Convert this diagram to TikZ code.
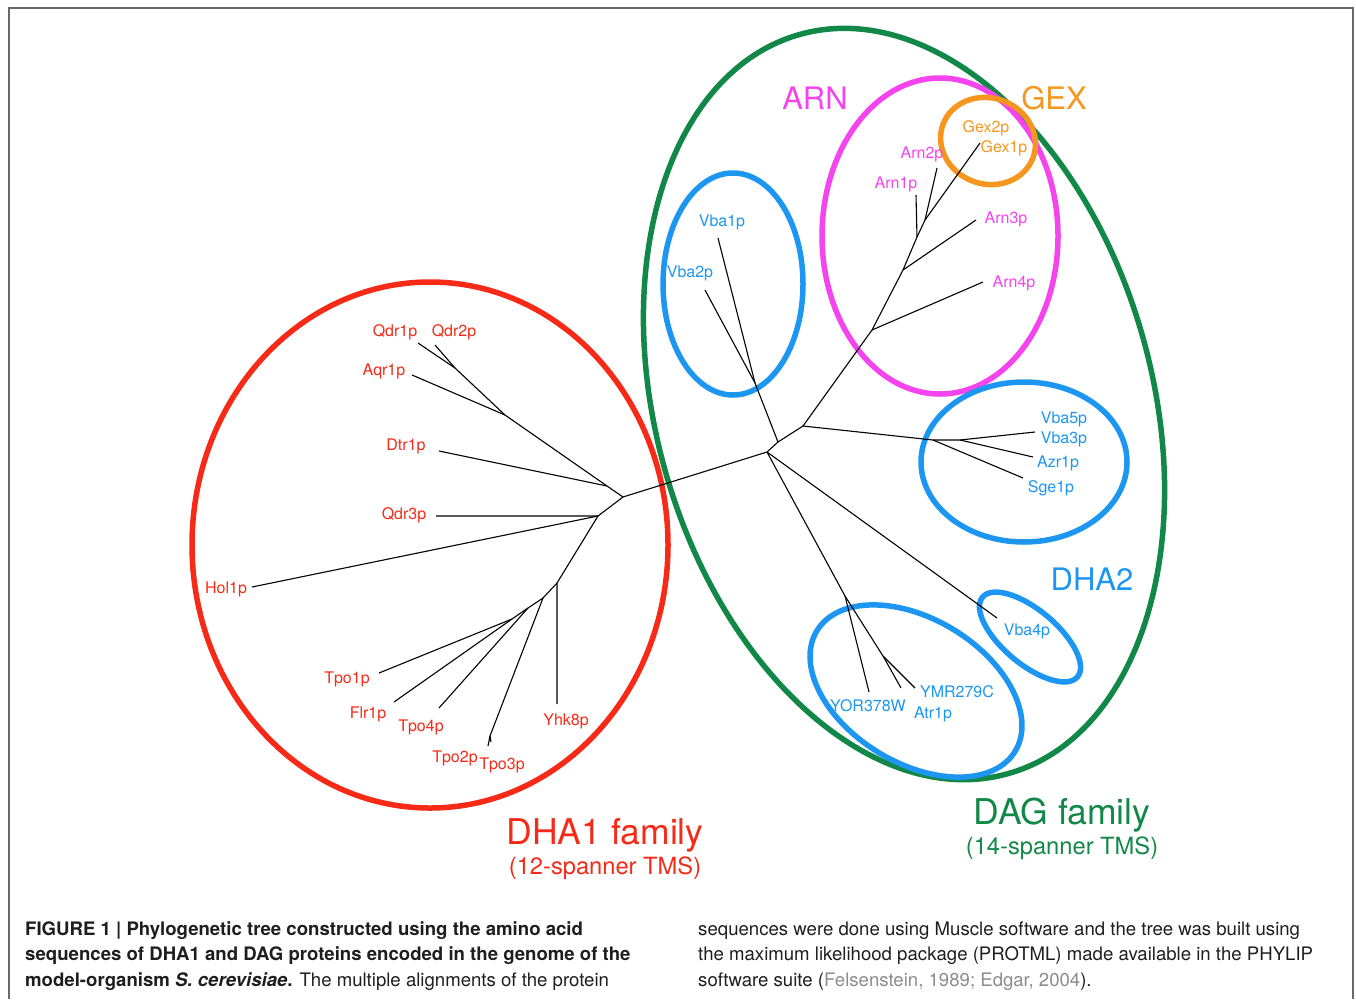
\documentclass[tikz,border=0pt]{standalone}
\usepackage{fontspec}
\setmainfont{TeX Gyre Heros}
\definecolor{dhared}{RGB}{246,42,22}
\definecolor{daggreen}{RGB}{18,136,72}
\definecolor{arnpink}{RGB}{244,68,238}
\definecolor{gexorange}{RGB}{246,150,30}
\definecolor{dhablue}{RGB}{28,150,240}
\definecolor{framegray}{RGB}{105,105,105}
\definecolor{citegray}{RGB}{140,140,140}
\definecolor{captext}{RGB}{30,30,30}
\begin{document}
\begin{tikzpicture}[x=1pt, y=-1pt,
  branch/.style={line width=1.1pt},
  ring/.style={line width=5.5pt},
  leaf/.style={inner sep=0pt, font=\fontsize{16}{18}\selectfont},
  group/.style={inner sep=0pt, font=\fontsize{31}{33}\selectfont},
  family/.style={inner sep=0pt, font=\fontsize{35.5}{38}\selectfont},
  tms/.style={inner sep=0pt, font=\fontsize{23.7}{26}\selectfont},
  caption/.style={inner sep=0pt, align=left, text=captext, font=\fontsize{18.6}{25.5}\selectfont}]
\useasboundingbox (0,0) rectangle (1356,999);

% Frame
\draw[framegray, line width=1.3pt] (9,999) -- (9,8) -- (1353,8) -- (1353,999);

% Rings
\draw[ring, daggreen, rotate around={15.8:(904,404)}] (904,404) ellipse [x radius=248, y radius=384];
\draw[ring, dhared] (430,545) ellipse [x radius=238, y radius=263];
\draw[ring, arnpink] (940,236) ellipse [x radius=118, y radius=158];
\draw[ring, dhablue] (733,284) ellipse [x radius=70, y radius=111];
\draw[ring, dhablue] (1024,462) ellipse [x radius=103, y radius=80];
\draw[ring, dhablue, rotate around={-31.3:(916,691)}] (916,691) ellipse [x radius=116, y radius=72];
\draw[ring, dhablue, rotate around={-40:(1030,637)}] (1030,637) ellipse [x radius=62, y radius=27];
\draw[ring, gexorange, rotate around={-20:(988,141)}] (988,141) ellipse [x radius=48, y radius=43];

% DHA1 tree
\coordinate (a) at (623,497);
\coordinate (j1) at (607,486);
\coordinate (k) at (505,415);
\coordinate (l) at (455,368);
\coordinate (m) at (598,516);
\coordinate (n) at (557,583);
\coordinate (p) at (543,598);
\coordinate (q) at (490,736);
\coordinate (r) at (528,608);
\coordinate (s) at (512,619);
\coordinate (tQdr1) at (418,343);
\coordinate (tQdr2) at (435,345);
\coordinate (tAqr1) at (412,375);
\coordinate (tDtr1) at (439,451);
\coordinate (tQdr3) at (436,516);
\coordinate (tHol1) at (252,587);
\coordinate (tYhk8) at (557,704);
\coordinate (tTpo2) at (488,746);
\coordinate (tTpo3) at (491,742);
\coordinate (tTpo4) at (439,708);
\coordinate (tTpo1) at (379,673);
\coordinate (tFlr1) at (394,702);

\draw[branch] (a) -- (j1) -- (k) -- (l) -- (tQdr1);
\draw[branch] (l) -- (tQdr2);
\draw[branch] (k) -- (tAqr1);
\draw[branch] (j1) -- (tDtr1);
\draw[branch] (a) -- (m) -- (tQdr3);
\draw[branch] (m) -- (tHol1);
\draw[branch] (m) -- (n) -- (tYhk8);
\draw[branch] (n) -- (p) -- (q) -- (tTpo2);
\draw[branch] (q) -- (tTpo3);
\draw[branch] (p) -- (r) -- (tTpo4);
\draw[branch] (r) -- (s) -- (tFlr1);
\draw[branch] (s) -- (tTpo1);

% DAG tree
\coordinate (b) at (767,452);
\coordinate (c) at (778,442);
\coordinate (d) at (803,426);
\coordinate (v) at (755,383);
\coordinate (e) at (872,330);
\coordinate (f) at (903,270);
\coordinate (g) at (917,237);
\coordinate (h) at (925,220);
\coordinate (w1) at (933,440);
\coordinate (w2) at (960,440);
\coordinate (y) at (845,596);
\coordinate (y2) at (883,656);
\coordinate (tVba1) at (718,238);
\coordinate (tVba2) at (705,290);
\coordinate (tArn4) at (983,282);
\coordinate (tArn3) at (976,220);
\coordinate (tArn1) at (916,195);
\coordinate (tArn2) at (937,168);
\coordinate (tGex) at (980,143);
\coordinate (tVba53) at (1035,432);
\coordinate (tAzr1) at (1033,457);
\coordinate (tSge1) at (1023,478);
\coordinate (tYOR) at (869,692);
\coordinate (tAtr1) at (901,688);
\coordinate (tYMR) at (915,688);
\coordinate (tVba4) at (997,618);

\draw[branch] (a) -- (b);
\draw[branch] (b) -- (c) -- (d) -- (e) -- (f) -- (g) -- (h) -- (tGex);
\draw[branch] (e) -- (tArn4);
\draw[branch] (f) -- (tArn3);
\draw[branch] (g) -- (tArn1);
\draw[branch] (h) -- (tArn2);
\draw[branch] (c) -- (v) -- (tVba1);
\draw[branch] (v) -- (tVba2);
\draw[branch] (d) -- (w1) -- (w2) -- (tVba53);
\draw[branch] (w2) -- (tAzr1);
\draw[branch] (w1) -- (tSge1);
\draw[branch] (b) -- (y) -- (tYOR);
\draw[branch] (y) -- (y2) -- (tAtr1);
\draw[branch] (y2) -- (tYMR);
\draw[branch] (b) -- (tVba4);

% DHA1 labels
\node[leaf, text=dhared] (qdr1) at (395,332) {Qdr1p};
\node[leaf, text=dhared] (qdr2) at (454,332) {Qdr2p};
\node[leaf, text=dhared] (aqr1) at (384,371) {Aqr1p};
\node[leaf, text=dhared] (dtr1) at (406,446) {Dtr1p};
\node[leaf, text=dhared] (qdr3) at (404,515) {Qdr3p};
\node[leaf, text=dhared] (hol1) at (226,589) {Hol1p};
\node[leaf, text=dhared] (tpo1) at (347,679) {Tpo1p};
\node[leaf, text=dhared] (flr1) at (368,714) {Flr1p};
\node[leaf, text=dhared] (tpo4) at (421,727) {Tpo4p};
\node[leaf, text=dhared] (tpo2) at (455,758) {Tpo2p};
\node[leaf, text=dhared] (tpo3) at (502,765) {Tpo3p};
\node[leaf, text=dhared] (yhk8) at (566,721) {Yhk8p};

% DAG labels
\node[leaf, text=dhablue] (vba1) at (722,222) {Vba1p};
\node[leaf, text=dhablue] (vba2) at (690,273) {Vba2p};
\node[leaf, text=arnpink] (arn2) at (922,154) {Arn2p};
\node[leaf, text=arnpink] (arn1) at (896,184) {Arn1p};
\node[leaf, text=arnpink] (arn3) at (1006,219) {Arn3p};
\node[leaf, text=arnpink] (arn4) at (1014,283) {Arn4p};
\node[leaf, text=gexorange] (gex2) at (986,128) {Gex2p};
\node[leaf, text=gexorange] (gex1) at (1004,148) {Gex1p};
\node[leaf, text=dhablue] (vba5) at (1064,419) {Vba5p};
\node[leaf, text=dhablue] (vba3) at (1064,439) {Vba3p};
\node[leaf, text=dhablue] (azr1) at (1058,463) {Azr1p};
\node[leaf, text=dhablue] (sge1) at (1051,488) {Sge1p};
\node[leaf, text=dhablue] (vba4) at (1027,631) {Vba4p};
\node[leaf, text=dhablue] (ymr) at (957,692) {YMR279C};
\node[leaf, text=dhablue] (yor) at (868,706) {YOR378W};
\node[leaf, text=dhablue] (atr1) at (933,714) {Atr1p};

% Group names
\node[group, text=arnpink] (arn) at (815,98) {ARN};
\node[group, text=gexorange] (gex) at (1054,98) {GEX};
\node[group, text=dhablue] (dha2) at (1092,579) {DHA2};
\node[family, text=dhared] (dha1fam) at (605,835) {DHA1 family};
\node[tms, text=dhared] (dha1tms) at (605,868) {(12-spanner TMS)};
\node[family, text=daggreen] (dagfam) at (1062,815) {DAG family};
\node[tms, text=daggreen] (dagtms) at (1062,848) {(14-spanner TMS)};

% Caption
\node[caption, anchor=base west] (capl) at (25,986) {\textbf{FIGURE 1 | Phylogenetic tree constructed using the amino acid}\\
\textbf{sequences of DHA1 and DAG proteins encoded in the genome of the}\\
\textbf{model-organism \textit{S. cerevisiae}.} The multiple alignments of the protein};
\node[caption, anchor=base west] (capr) at (698,986) {sequences were done using Muscle software and the tree was built using\\
the maximum likelihood package (PROTML) made available in the PHYLIP\\
software suite ({\color{citegray}Felsenstein, 1989; Edgar, 2004}).};
\end{tikzpicture}
\end{document}
